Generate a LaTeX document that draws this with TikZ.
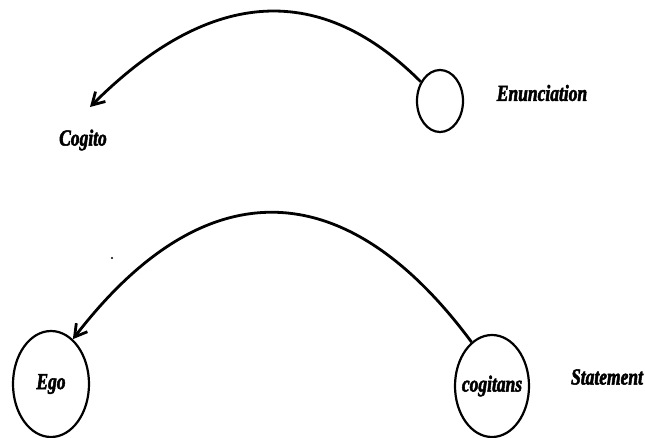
\documentclass[tikz,border=0pt]{standalone}
\usepackage{fontspec}
\setmainfont{Liberation Serif}
\font\lblfont="Liberation Serif/BI:embolden=2.2;extend=0.76" at 23pt
\usetikzlibrary{shapes.geometric,arrows.meta}
\begin{document}
\begin{tikzpicture}[x=1pt,y=-1pt,
  lbl/.style={font=\lblfont, inner sep=0pt},
  oval/.style={ellipse, draw, line width=2.2pt, inner sep=0pt},
  arc/.style={line width=2.8pt, -{Straight Barb[length=12pt,width=14pt,line width=2.8pt]}}
]
\useasboundingbox (0,0) rectangle (645,437);
% top row
\node[oval, minimum width=46pt, minimum height=62pt] (enc) at (440,101) {};
\node[lbl] (enun) at (542,93) {Enunciation};
\node[lbl] (cogito) at (83,140) {Cogito};
\coordinate (ctip) at (90,107);
\draw[arc] (enc.135) .. controls (323,-16) and (213,-16) .. (ctip);
% bottom row
\node[oval, minimum width=76pt, minimum height=106pt] (ego) at (51,384) {};
\node[lbl] at (ego.center) {Ego};
\node[oval, minimum width=74pt, minimum height=102pt] (cog) at (492,386) {};
\node[lbl] at (cog.center) {cogitans};
\node[lbl] (stat) at (607,377) {Statement};
\draw[arc] (cog.115) .. controls (344,170) and (203,170) .. (ego.64);
% speck
\fill (112,258) circle (1.2pt);
\end{tikzpicture}
\end{document}
